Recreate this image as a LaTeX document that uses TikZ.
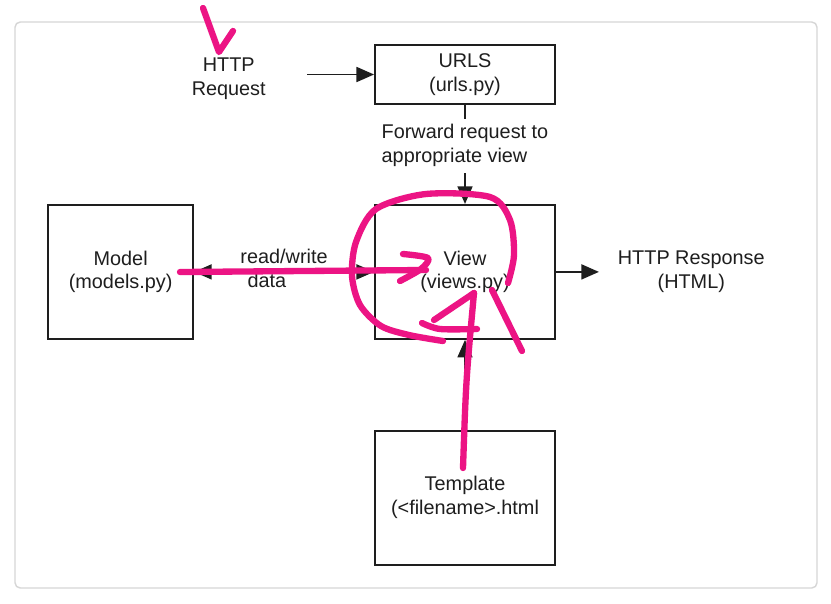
\documentclass[tikz,border=0pt]{standalone}
\usepackage{fontspec}
\setmainfont{Liberation Sans}
\usetikzlibrary{arrows.meta, positioning}
\definecolor{markpink}{RGB}{236, 20, 132}
\definecolor{framegray}{RGB}{214, 214, 214}
\definecolor{inkgray}{RGB}{30, 30, 30}

\begin{document}
\begin{tikzpicture}[
  x=0.02cm, y=-0.02cm,
  every node/.style={font=\fontsize{11.3}{13.6}\selectfont, text=inkgray},
  box/.style={rectangle, draw=inkgray, line width=1.1pt,
              minimum width=#1, minimum height=2.68cm, align=center},
  box/.default=3.6cm,
  plain/.style={align=center, inner sep=0pt, minimum width=#1},
  arr/.style={-{Triangle[length=10pt, width=8.5pt]}, line width=1.1pt, inkgray},
  darr/.style={{Triangle[length=10pt, width=8.5pt]}-{Triangle[length=10pt, width=8.5pt]},
               line width=1.1pt, inkgray},
  pen/.style={markpink, line width=3.6pt, line cap=round, line join=round}
]
\useasboundingbox[fill=white] (0,0) rectangle (831,603);
\draw[framegray, rounded corners=3pt, line width=0.8pt] (15,22) rectangle (817,588);

\node[box, minimum height=1.18cm] (urls) at (465,74.5) {URLS\\(urls.py)};
\node[box, below=1.98cm of urls]        (view)     {View\\(views.py)};
\node[box=2.9cm, left=3.6cm of view]    (model)    {Model\\(models.py)};
\node[box, below=1.8cm of view]         (template) {Template\\(<filename>.html};
\node[plain=3.12cm, left=1.34cm of urls, yshift=-2.5pt] (request) {HTTP\\Request};
\node[plain=3.68cm, right=0.86cm of view] (response) {HTTP Response\\(HTML)};

\draw[arr] (request.east |- urls) -- (urls);
\draw[arr] (urls) -- (view)
  node[midway, yshift=5pt, fill=white, align=left]{Forward request to\\appropriate view};
\draw[darr] (model) -- (view)
  node[midway, yshift=2pt, fill=white, align=left]{read/write\\\hspace{4pt}data};
\draw[arr] (view) -- (response);
\draw[arr] (template) -- (view);

% hand-drawn marks
\draw[pen] (203,8) -- (219,52) -- (233,31);
\draw[pen] (180,272) -- (426,270);
\draw[pen] plot[smooth] coordinates {(403,254) (428,258) (421,269) (400,281)};
\draw[pen] plot[smooth] coordinates {(443,341) (409,335) (381,326) (360,305) (352,276)
  (356,242) (376,209) (426,194) (490,197) (510,220) (514,255) (508,283)};
\draw[pen] (492,290) -- (522,351);
\draw[pen] (463,468) .. controls (466,380) .. (474,293);
\draw[pen] (474,293) -- (434,320);
\draw[pen] plot[smooth] coordinates {(422,323) (440,329) (477,329)};
\end{tikzpicture}
\end{document}
